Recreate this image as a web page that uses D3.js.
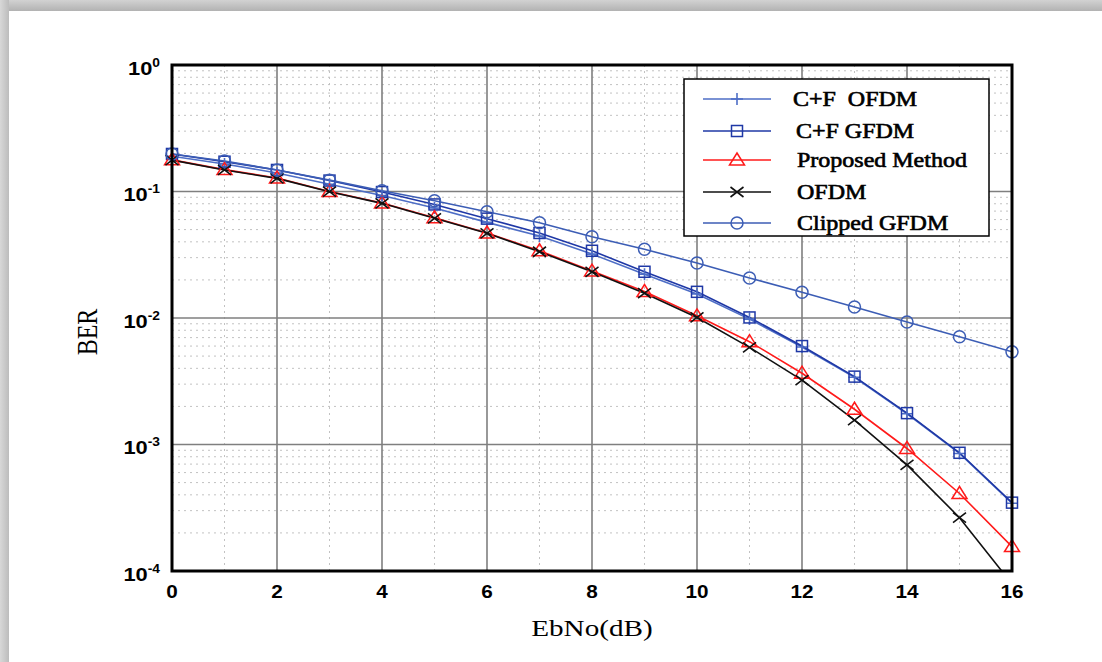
<!DOCTYPE html>
<html>
<head>
<meta charset="utf-8">
<script src="https://cdn.jsdelivr.net/npm/d3@7"></script>
<style>
  html, body { margin: 0; padding: 0; background: #ffffff; }
  svg { display: block; }
</style>
</head>
<body>
<svg id="chart" width="1102" height="662"></svg>
<script>
// Eb/No axis values (dB)
const ebno = [0, 1, 2, 3, 4, 5, 6, 7, 8, 9, 10, 11, 12, 13, 14, 15, 16];

// BER curves
const berCfOfdm   = [0.190, 0.165, 0.140, 0.114, 0.093, 0.074, 0.057, 0.0445, 0.032, 0.0222, 0.0155, 0.0098, 0.0059, 0.0034, 0.00175, 0.00085, 0.000343];
const berCfGfdm   = [0.198, 0.172, 0.148, 0.122, 0.099, 0.079, 0.061, 0.047, 0.034, 0.0232, 0.0161, 0.0101, 0.0060, 0.00344, 0.00177, 0.00086, 0.000347];
const berProposed = [0.178, 0.149, 0.128, 0.100, 0.081, 0.062, 0.047, 0.034, 0.0235, 0.0162, 0.0104, 0.0065, 0.00366, 0.0019, 0.00093, 0.00041, 0.000156];
const berOfdm     = [0.177, 0.148, 0.127, 0.0996, 0.0806, 0.0614, 0.0467, 0.0334, 0.0232, 0.0157, 0.0101, 0.00586, 0.00323, 0.00156, 0.00069, 0.000264, 0.000079];
const berClipped  = [0.198, 0.174, 0.148, 0.123, 0.1014, 0.0845, 0.0692, 0.0567, 0.0439, 0.0349, 0.0272, 0.0207, 0.0160, 0.0122, 0.0093, 0.0071, 0.0054];

// Axis ticks
const xTicks = [0, 2, 4, 6, 8, 10, 12, 14, 16];
const yExponents = [0, -1, -2, -3, -4];

const seriesNames = ["C+F  OFDM", "C+F GFDM", "Proposed Method", "OFDM", "Clipped GFDM"];

const series = [
  { name: seriesNames[0], values: berCfOfdm,   color: "#4e6ec6", marker: "plus" },
  { name: seriesNames[1], values: berCfGfdm,   color: "#1f38a6", marker: "square" },
  { name: seriesNames[2], values: berProposed, color: "#ff1a1a", marker: "triangle" },
  { name: seriesNames[3], values: berOfdm,     color: "#111111", marker: "cross" },
  { name: seriesNames[4], values: berClipped,  color: "#3c5db5", marker: "circle" }
];

const svg = d3.select("#chart");
const W = 1102, H = 662;

// page card with a soft grey border on top and left
const defs = svg.append("defs");
const gTop = defs.append("linearGradient").attr("id", "gTop").attr("x1", 0).attr("y1", 0).attr("x2", 0).attr("y2", 1);
gTop.append("stop").attr("offset", "0%").attr("stop-color", "#d2d2d2");
gTop.append("stop").attr("offset", "100%").attr("stop-color", "#b2b2b2");
const gLeft = defs.append("linearGradient").attr("id", "gLeft").attr("x1", 0).attr("y1", 0).attr("x2", 1).attr("y2", 0);
gLeft.append("stop").attr("offset", "0%").attr("stop-color", "#d8d8d8");
gLeft.append("stop").attr("offset", "100%").attr("stop-color", "#bcbcbc");

svg.append("rect").attr("x", 0).attr("y", 0).attr("width", W).attr("height", H).attr("fill", "#ffffff");
svg.append("rect").attr("x", 0).attr("y", 0).attr("width", W).attr("height", 11).attr("fill", "url(#gTop)");
svg.append("rect").attr("x", 0).attr("y", 0).attr("width", 9).attr("height", H).attr("fill", "url(#gLeft)");

// plot area
const m = { left: 172, top: 65, right: 1012, bottom: 571 };
const x = d3.scaleLinear().domain([0, 16]).range([m.left, m.right]);
const y = d3.scaleLog().domain([1e-4, 1]).range([m.bottom, m.top]);

defs.append("clipPath").attr("id", "plotClip")
  .append("rect").attr("x", m.left).attr("y", m.top)
  .attr("width", m.right - m.left).attr("height", m.bottom - m.top);

const grid = svg.append("g");
// minor grid: odd dB values and 2..9 within each decade
const minorX = d3.range(1, 16, 2);
const minorY = [];
for (let e = -4; e < 0; e++) for (let k = 2; k <= 9; k++) minorY.push(k * Math.pow(10, e));

grid.selectAll(".mx").data(minorX).join("line")
  .attr("x1", d => x(d)).attr("x2", d => x(d)).attr("y1", m.top).attr("y2", m.bottom)
  .attr("stroke", "#c2c2c2").attr("stroke-width", 1).attr("stroke-dasharray", "2,4");
grid.selectAll(".my").data(minorY).join("line")
  .attr("y1", d => y(d)).attr("y2", d => y(d)).attr("x1", m.left).attr("x2", m.right)
  .attr("stroke", "#c2c2c2").attr("stroke-width", 1).attr("stroke-dasharray", "2,4");

// major grid
grid.selectAll(".Mx").data(xTicks.slice(1, -1)).join("line")
  .attr("x1", d => x(d)).attr("x2", d => x(d)).attr("y1", m.top).attr("y2", m.bottom)
  .attr("stroke", "#7f7f7f").attr("stroke-width", 1.6);
grid.selectAll(".My").data(yExponents.slice(1, -1)).join("line")
  .attr("y1", d => y(Math.pow(10, d))).attr("y2", d => y(Math.pow(10, d))).attr("x1", m.left).attr("x2", m.right)
  .attr("stroke", "#7f7f7f").attr("stroke-width", 1.6);

// curves: lines are clipped to the axes, markers are drawn where the value is in range
const line = d3.line().x((d, i) => x(ebno[i])).y(d => y(d));
const linesG = svg.append("g").attr("clip-path", "url(#plotClip)");
const markersG = svg.append("g");

function drawMarker(g, type, cx, cy, color) {
  const s = 6;
  if (type === "circle") {
    g.append("circle").attr("cx", cx).attr("cy", cy).attr("r", s)
      .attr("fill", "none").attr("stroke", color).attr("stroke-width", 1.5);
  } else if (type === "square") {
    g.append("rect").attr("x", cx - 5.5).attr("y", cy - 5.5).attr("width", 11).attr("height", 11)
      .attr("fill", "none").attr("stroke", color).attr("stroke-width", 1.5);
  } else if (type === "triangle") {
    g.append("path").attr("d", `M${cx},${cy - 7}L${cx + 7.5},${cy + 5}L${cx - 7.5},${cy + 5}Z`)
      .attr("fill", "none").attr("stroke", color).attr("stroke-width", 1.5);
  } else if (type === "cross") {
    g.append("path").attr("d", `M${cx - 6.5},${cy - 5}L${cx + 6.5},${cy + 5}M${cx - 6.5},${cy + 5}L${cx + 6.5},${cy - 5}`)
      .attr("fill", "none").attr("stroke", color).attr("stroke-width", 1.6);
  } else if (type === "plus") {
    g.append("path").attr("d", `M${cx - 6},${cy}L${cx + 6},${cy}M${cx},${cy - 6}L${cx},${cy + 6}`)
      .attr("fill", "none").attr("stroke", color).attr("stroke-width", 1.6);
  }
}

// frame
svg.append("rect").attr("x", m.left).attr("y", m.top)
  .attr("width", m.right - m.left).attr("height", m.bottom - m.top)
  .attr("fill", "none").attr("stroke", "#000").attr("stroke-width", 3);

series.forEach(s => {
  linesG.append("path").datum(s.values).attr("d", line)
    .attr("fill", "none").attr("stroke", s.color).attr("stroke-width", 1.6);
  const g = markersG.append("g");
  s.values.forEach((v, i) => {
    if (v >= 1e-4 && v <= 1) drawMarker(g, s.marker, x(ebno[i]), y(v), s.color);
  });
});

// text helper with horizontal stretch
function stretchedText(parent, tx, ty, sx, opts) {
  return parent.append("text")
    .attr("transform", `translate(${tx},${ty}) scale(${sx},1)`)
    .attr("font-family", opts.family)
    .attr("font-size", opts.size)
    .attr("font-weight", opts.weight || "normal")
    .attr("text-anchor", opts.anchor || "start")
    .attr("fill", "#000");
}

// x tick labels
const xAxisG = svg.append("g");
xTicks.forEach(t => {
  stretchedText(xAxisG, x(t), 598, 1.15, { family: "Liberation Sans, Arial, sans-serif", size: 18, weight: "bold", anchor: "middle" })
    .text(t);
});

// y tick labels: 10 with a superscript exponent
const yAxisG = svg.append("g");
yExponents.forEach(e => {
  const ty = y(Math.pow(10, e)) + 9.5;
  const t = stretchedText(yAxisG, 160, ty, 1.15, { family: "Liberation Sans, Arial, sans-serif", size: 19, weight: "bold", anchor: "end" });
  t.append("tspan").text("10");
  t.append("tspan").attr("font-size", 12).attr("dy", -8).text(e);
});

// axis titles
stretchedText(svg, 592, 636, 1.27, { family: "Liberation Serif, Times New Roman, serif", size: 23, anchor: "middle" })
  .text("EbNo(dB)");
svg.append("text")
  .attr("transform", "translate(97,332) rotate(-90) scale(1,1.27)")
  .attr("font-family", "Liberation Serif, Times New Roman, serif")
  .attr("font-size", 24)
  .attr("text-anchor", "middle")
  .attr("fill", "#000")
  .text("BER");

// legend
const lg = svg.append("g");
lg.append("rect").attr("x", 684).attr("y", 79).attr("width", 305).attr("height", 157)
  .attr("fill", "#fff").attr("stroke", "#000").attr("stroke-width", 1.5);
const legendY = [99, 131, 160, 192, 223];
const legendTextX = [793, 796, 797, 797, 797];
series.forEach((s, i) => {
  const ly = legendY[i];
  lg.append("line").attr("x1", 703).attr("x2", 771).attr("y1", ly).attr("y2", ly)
    .attr("stroke", s.color).attr("stroke-width", 1.6);
  drawMarker(lg, s.marker, 737, ly, s.color);
  stretchedText(lg, legendTextX[i], ly + 7, 1.2, { family: "Liberation Serif, Times New Roman, serif", size: 20 })
    .attr("stroke", "#000").attr("stroke-width", 0.6)
    .attr("xml:space", "preserve").style("white-space", "pre")
    .text(s.name);
});
</script>
</body>
</html>
